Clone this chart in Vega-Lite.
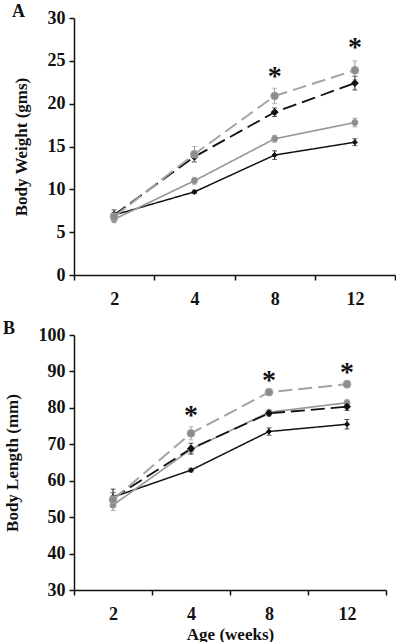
{
  "$schema": "https://vega.github.io/schema/vega-lite/v6.json",
  "padding": {"left": 3, "top": 3, "right": 0, "bottom": 0},
  "spacing": 12,
  "config": {
    "view": {"stroke": null},
    "legend": {"disable": true},
    "axis": {
      "grid": false,
      "labelFont": "Liberation Serif",
      "labelFontWeight": "bold",
      "labelFontSize": 18,
      "labelColor": "#111",
      "titleFont": "Liberation Serif",
      "titleFontWeight": "bold",
      "titleFontSize": 17,
      "titleColor": "#111",
      "domainColor": "#111",
      "domainWidth": 1.5,
      "tickColor": "#111",
      "tickWidth": 1.5,
      "tickSize": 5
    },
    "axisX": {"labelPadding": 10, "titlePadding": 3},
    "axisY": {"labelPadding": 4, "titlePadding": 17},
    "title": {"font": "Liberation Serif", "fontWeight": "bold", "fontSize": 18, "color": "#111", "anchor": "start", "frame": "bounds", "offset": -12}
  },
  "datasets": {
    "series": [
      {"panel": "A", "group": "s1", "age": 2, "value": 7.0, "err": 0.3},
      {"panel": "A", "group": "s1", "age": 4, "value": 9.7, "err": 0.2},
      {"panel": "A", "group": "s1", "age": 8, "value": 14.0, "err": 0.5},
      {"panel": "A", "group": "s1", "age": 12, "value": 15.5, "err": 0.4},
      {"panel": "A", "group": "s2", "age": 2, "value": 6.5, "err": 0.4},
      {"panel": "A", "group": "s2", "age": 4, "value": 11.0, "err": 0.4},
      {"panel": "A", "group": "s2", "age": 8, "value": 15.9, "err": 0.4},
      {"panel": "A", "group": "s2", "age": 12, "value": 17.8, "err": 0.5},
      {"panel": "A", "group": "s3", "age": 2, "value": 7.0, "err": 0.6},
      {"panel": "A", "group": "s3", "age": 4, "value": 13.8, "err": 0.6},
      {"panel": "A", "group": "s3", "age": 8, "value": 19.0, "err": 0.5},
      {"panel": "A", "group": "s3", "age": 12, "value": 22.4, "err": 0.8},
      {"panel": "A", "group": "s4", "age": 2, "value": 6.8, "err": 0.5},
      {"panel": "A", "group": "s4", "age": 4, "value": 14.1, "err": 0.9},
      {"panel": "A", "group": "s4", "age": 8, "value": 20.9, "err": 0.9},
      {"panel": "A", "group": "s4", "age": 12, "value": 23.9, "err": 1.1},
      {"panel": "B", "group": "s1", "age": 2, "value": 55.5, "err": 1.2},
      {"panel": "B", "group": "s1", "age": 4, "value": 62.9, "err": 0.5},
      {"panel": "B", "group": "s1", "age": 8, "value": 73.5, "err": 1.0},
      {"panel": "B", "group": "s1", "age": 12, "value": 75.5, "err": 1.3},
      {"panel": "B", "group": "s2", "age": 2, "value": 53.3, "err": 1.5},
      {"panel": "B", "group": "s2", "age": 4, "value": 68.6, "err": 1.0},
      {"panel": "B", "group": "s2", "age": 8, "value": 78.8, "err": 0.6},
      {"panel": "B", "group": "s2", "age": 12, "value": 81.4, "err": 0.8},
      {"panel": "B", "group": "s3", "age": 2, "value": 55.2, "err": 2.5},
      {"panel": "B", "group": "s3", "age": 4, "value": 68.8, "err": 1.5},
      {"panel": "B", "group": "s3", "age": 8, "value": 78.5, "err": 0.7},
      {"panel": "B", "group": "s3", "age": 12, "value": 80.3, "err": 1.0},
      {"panel": "B", "group": "s4", "age": 2, "value": 54.8, "err": 2.0},
      {"panel": "B", "group": "s4", "age": 4, "value": 73.0, "err": 1.8},
      {"panel": "B", "group": "s4", "age": 8, "value": 84.3, "err": 0.8},
      {"panel": "B", "group": "s4", "age": 12, "value": 86.5, "err": 1.0}
    ],
    "stars": [
      {"panel": "A", "age": 8, "value": 23.8, "label": "*"},
      {"panel": "A", "age": 12, "value": 27.2, "label": "*"},
      {"panel": "B", "age": 4, "value": 79.4, "label": "*"},
      {"panel": "B", "age": 8, "value": 89.0, "label": "*"},
      {"panel": "B", "age": 12, "value": 91.3, "label": "*"}
    ]
  },
  "vconcat": [
    {
      "width": 321,
      "height": 257,
      "title": {"text": "A"},
      "encoding": {
        "x": {"field": "age", "type": "ordinal", "sort": [2, 4, 8, 12], "scale": {"type": "band", "paddingInner": 0, "paddingOuter": 0}, "axis": {"title": null, "tickBand": "extent", "labelAngle": 0}},
        "y": {"field": "value", "type": "quantitative", "scale": {"domain": [0, 30]}, "axis": {"title": "Body Weight (gms)", "values": [0, 5, 10, 15, 20, 25, 30]}}
      },
      "layer": [
        {
          "data": {"name": "series"},
          "transform": [{"filter": "datum.panel === 'A'"}],
          "mark": {"type": "errorbar", "ticks": {"size": 5}},
          "encoding": {
            "yError": {"field": "err"},
            "color": {"field": "group", "type": "nominal", "scale": {"domain": ["s1", "s2", "s3", "s4"], "range": ["#111111", "#8a8a8a", "#111111", "#9a9a9a"]}}
          }
        },
        {
          "data": {"name": "series"},
          "transform": [{"filter": "datum.panel === 'A'"}],
          "mark": {"type": "line"},
          "encoding": {
            "detail": {"field": "group"},
            "stroke": {"field": "group", "type": "nominal", "scale": {"domain": ["s1", "s2", "s3", "s4"], "range": ["#111111", "#999999", "#111111", "#a3a3a3"]}},
            "strokeDash": {"field": "group", "type": "nominal", "scale": {"domain": ["s1", "s2", "s3", "s4"], "range": [[1, 0], [1, 0], [14, 6], [14, 6]]}},
            "strokeWidth": {"field": "group", "type": "nominal", "scale": {"domain": ["s1", "s2", "s3", "s4"], "range": [1.5, 2, 2.5, 2.5]}}
          }
        },
        {
          "data": {"name": "series"},
          "transform": [{"filter": "datum.panel === 'A'"}],
          "mark": {"type": "point", "filled": true, "opacity": 1, "strokeWidth": 1},
          "encoding": {
            "shape": {"field": "group", "type": "nominal", "scale": {"domain": ["s1", "s2", "s3", "s4"], "range": ["diamond", "circle", "diamond", "circle"]}},
            "size": {"field": "group", "type": "nominal", "scale": {"domain": ["s1", "s2", "s3", "s4"], "range": [25, 60, 25, 60]}},
            "fill": {"field": "group", "type": "nominal", "scale": {"domain": ["s1", "s2", "s3", "s4"], "range": ["#111111", "#8c8c8c", "#111111", "#8c8c8c"]}},
            "stroke": {"field": "group", "type": "nominal", "scale": {"domain": ["s1", "s2", "s3", "s4"], "range": ["#111111", "#666666", "#111111", "#666666"]}}
          }
        },
        {
          "data": {"name": "stars"},
          "transform": [{"filter": "datum.panel === 'A'"}],
          "mark": {"type": "text", "font": "Liberation Serif", "fontWeight": "bold", "fontSize": 28, "baseline": "middle", "dy": 6, "color": "#111"},
          "encoding": {"text": {"field": "label"}}
        }
      ]
    },
    {
      "width": 312,
      "height": 255,
      "title": {"text": "B"},
      "encoding": {
        "x": {"field": "age", "type": "ordinal", "sort": [2, 4, 8, 12], "scale": {"type": "band", "paddingInner": 0, "paddingOuter": 0}, "axis": {"title": "Age (weeks)", "tickBand": "extent", "labelAngle": 0}},
        "y": {"field": "value", "type": "quantitative", "scale": {"domain": [30, 100]}, "axis": {"title": "Body Length (mm)", "values": [30, 40, 50, 60, 70, 80, 90, 100]}}
      },
      "layer": [
        {
          "data": {"name": "series"},
          "transform": [{"filter": "datum.panel === 'B'"}],
          "mark": {"type": "errorbar", "ticks": {"size": 5}},
          "encoding": {
            "yError": {"field": "err"},
            "color": {"field": "group", "type": "nominal", "scale": {"domain": ["s1", "s2", "s3", "s4"], "range": ["#111111", "#8a8a8a", "#111111", "#9a9a9a"]}}
          }
        },
        {
          "data": {"name": "series"},
          "transform": [{"filter": "datum.panel === 'B'"}],
          "mark": {"type": "line"},
          "encoding": {
            "detail": {"field": "group"},
            "stroke": {"field": "group", "type": "nominal", "scale": {"domain": ["s1", "s2", "s3", "s4"], "range": ["#111111", "#999999", "#111111", "#a3a3a3"]}},
            "strokeDash": {"field": "group", "type": "nominal", "scale": {"domain": ["s1", "s2", "s3", "s4"], "range": [[1, 0], [1, 0], [14, 6], [14, 6]]}},
            "strokeWidth": {"field": "group", "type": "nominal", "scale": {"domain": ["s1", "s2", "s3", "s4"], "range": [1.5, 2, 2.5, 2.5]}}
          }
        },
        {
          "data": {"name": "series"},
          "transform": [{"filter": "datum.panel === 'B'"}],
          "mark": {"type": "point", "filled": true, "opacity": 1, "strokeWidth": 1},
          "encoding": {
            "shape": {"field": "group", "type": "nominal", "scale": {"domain": ["s1", "s2", "s3", "s4"], "range": ["diamond", "circle", "diamond", "circle"]}},
            "size": {"field": "group", "type": "nominal", "scale": {"domain": ["s1", "s2", "s3", "s4"], "range": [25, 60, 25, 60]}},
            "fill": {"field": "group", "type": "nominal", "scale": {"domain": ["s1", "s2", "s3", "s4"], "range": ["#111111", "#8c8c8c", "#111111", "#8c8c8c"]}},
            "stroke": {"field": "group", "type": "nominal", "scale": {"domain": ["s1", "s2", "s3", "s4"], "range": ["#111111", "#666666", "#111111", "#666666"]}}
          }
        },
        {
          "data": {"name": "stars"},
          "transform": [{"filter": "datum.panel === 'B'"}],
          "mark": {"type": "text", "font": "Liberation Serif", "fontWeight": "bold", "fontSize": 28, "baseline": "middle", "dy": 6, "color": "#111"},
          "encoding": {"text": {"field": "label"}}
        }
      ]
    }
  ]
}
